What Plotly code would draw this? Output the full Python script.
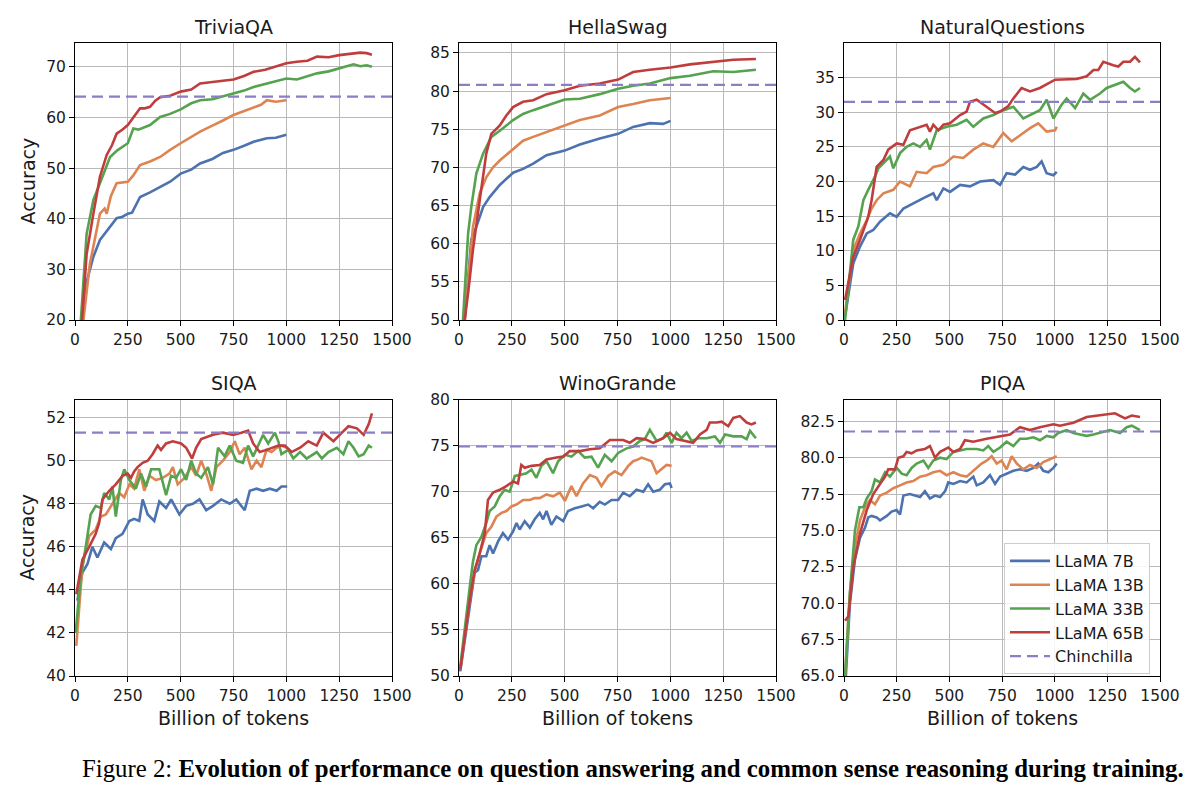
import plotly.graph_objects as go

# ---------------- data ----------------
MODELS = ["LLaMA 7B", "LLaMA 13B", "LLaMA 33B", "LLaMA 65B"]
COLORS = ["#4C72B0", "#DD8452", "#55A24F", "#C03D3E"]
CHIN_COLOR = "#8C7DC4"
PANELS = ["TriviaQA", "HellaSwag", "NaturalQuestions", "SIQA", "WinoGrande", "PIQA"]
CHINCHILLA = [64.1, 80.8, 31.5, 51.3, 74.9, 81.8]
X_TICKS = [0, 250, 500, 750, 1000, 1250, 1500]
X_RANGE = [0, 1500]

# TriviaQA
TQA_7B_X = [20, 32, 55, 87, 118, 140, 166, 197, 225, 250, 270, 308, 355, 403, 450, 500, 550, 592, 650, 700, 750, 800, 845, 908, 950, 1000]
TQA_7B_Y = [12, 20, 27.5, 32.5, 35.8, 37, 38.4, 40.1, 40.4, 41, 41.2, 44.3, 45.2, 46.3, 47.3, 48.9, 49.7, 50.9, 51.8, 53, 53.6, 54.4, 55.2, 55.9, 56, 56.6]
TQA_13B_X = [20, 40, 70, 100, 118, 140, 150, 170, 197, 250, 275, 308, 355, 403, 450, 500, 550, 592, 650, 671, 700, 750, 800, 845, 880, 908, 950, 1000]
TQA_13B_Y = [10, 20, 31, 37.5, 41, 42, 41, 44.5, 47, 47.3, 48.5, 50.6, 51.3, 52.2, 53.6, 54.9, 56.2, 57.2, 58.4, 58.8, 59.4, 60.5, 61.3, 62.1, 62.5, 63.4, 63.1, 63.4]
TQA_33B_X = [15, 30, 55, 87, 118, 166, 200, 250, 276, 300, 355, 403, 450, 500, 550, 592, 650, 700, 750, 800, 845, 900, 950, 1000, 1050, 1100, 1145, 1200, 1250, 1318, 1350, 1380, 1405]
TQA_33B_Y = [12, 22, 37, 43.7, 47, 52.2, 53.5, 54.9, 57.8, 57.6, 58.5, 60.1, 60.7, 61.6, 62.8, 63.4, 63.6, 64.2, 64.7, 65.3, 66, 66.6, 67.2, 67.7, 67.5, 68.1, 68.7, 69.1, 69.7, 70.5, 70.1, 70.3, 70]
TQA_65B_X = [20, 40, 55, 87, 118, 150, 175, 197, 225, 250, 280, 308, 330, 355, 380, 403, 450, 500, 550, 592, 650, 700, 750, 800, 845, 900, 950, 1000, 1050, 1100, 1145, 1200, 1250, 1300, 1350, 1380, 1405]
TQA_65B_Y = [12, 24, 33, 41, 48.3, 52.6, 54.5, 56.8, 57.6, 58.5, 60.2, 61.8, 61.8, 62.1, 63.3, 64, 64.3, 65.1, 65.5, 66.7, 67, 67.2, 67.5, 68.2, 69, 69.4, 70, 70.7, 71, 71.2, 72, 71.9, 72.3, 72.6, 72.8, 72.7, 72.4]

# HellaSwag
HS_7B_X = [10, 27, 58, 82, 114, 145, 193, 256, 303, 351, 414, 500, 572, 666, 753, 824, 903, 966, 1001]
HS_7B_Y = [40, 50, 60.5, 62.2, 64.8, 66.1, 67.7, 69.3, 69.8, 70.5, 71.6, 72.2, 73, 73.8, 74.4, 75.3, 75.8, 75.7, 76.1]
HS_13B_X = [10, 27, 66, 98, 129, 161, 193, 256, 303, 351, 414, 500, 572, 666, 753, 824, 903, 1001]
HS_13B_Y = [40, 50, 62.2, 66.6, 68.7, 70, 70.9, 72.4, 73.5, 74, 74.6, 75.5, 76.2, 76.8, 77.9, 78.3, 78.8, 79.1]
HS_33B_X = [5, 19, 43, 58, 82, 114, 153, 193, 256, 303, 351, 414, 500, 572, 666, 753, 824, 903, 1001, 1093, 1203, 1298, 1405]
HS_33B_Y = [40, 50, 61.3, 64.8, 69.2, 71.8, 74, 74.8, 76.2, 77, 77.5, 78.1, 78.9, 79, 79.6, 80.3, 80.7, 81, 81.7, 82, 82.6, 82.5, 82.8]
HS_65B_X = [10, 27, 45, 66, 98, 129, 153, 193, 224, 256, 303, 351, 414, 500, 572, 666, 753, 824, 903, 1001, 1093, 1203, 1251, 1298, 1405]
HS_65B_Y = [40, 50, 54, 59.2, 65.7, 71.8, 74.4, 75.5, 76.8, 77.9, 78.6, 78.8, 79.6, 80.1, 80.7, 81, 81.5, 82.5, 82.8, 83.1, 83.5, 83.8, 84, 84.1, 84.2]

# NaturalQuestions
NQ_7B_X = [5, 44, 76, 108, 139, 171, 218, 250, 282, 329, 377, 424, 440, 472, 503, 551, 598, 646, 709, 741, 772, 812, 851, 883, 915, 938, 962, 994, 1010]
NQ_7B_Y = [0.5, 8.2, 10.6, 12.5, 13, 14.2, 15.4, 14.9, 16.1, 16.9, 17.6, 18.3, 17.3, 19, 18.5, 19.5, 19.3, 20, 20.2, 19.5, 21.2, 21, 22.1, 21.7, 22.1, 22.9, 21.2, 20.9, 21.4]
NQ_13B_X = [5, 44, 76, 108, 131, 155, 187, 234, 266, 313, 345, 392, 424, 472, 519, 566, 614, 661, 709, 756, 796, 835, 883, 922, 962, 1002, 1010]
NQ_13B_Y = [1, 10.1, 12.5, 14.4, 16.1, 17.3, 18.3, 18.8, 20, 19.3, 21.4, 21.2, 22.1, 22.4, 23.6, 23.4, 24.6, 25.5, 25, 27, 25.8, 26.7, 27.7, 28.4, 27.2, 27.4, 27.9]
NQ_33B_X = [5, 44, 68, 92, 115, 147, 163, 187, 218, 234, 266, 297, 329, 361, 392, 408, 440, 487, 535, 582, 614, 661, 709, 741, 804, 851, 899, 930, 962, 994, 1033, 1057, 1097, 1136, 1168, 1215, 1247, 1286, 1326, 1358, 1381, 1405]
NQ_33B_Y = [0, 11.6, 13.5, 17.3, 18.8, 20.7, 21.9, 22.6, 23.6, 21.9, 24.1, 25, 25.5, 25, 26, 24.6, 27.4, 27.9, 28.2, 28.9, 27.9, 29.1, 29.6, 30.1, 30.8, 29.1, 29.9, 30.3, 31.8, 29.1, 31.1, 32, 30.6, 32.7, 31.8, 32.7, 33.5, 33.9, 34.4, 33.5, 33, 33.5]
NQ_65B_X = [5, 44, 76, 115, 131, 155, 187, 210, 250, 282, 313, 392, 408, 424, 448, 472, 503, 551, 582, 598, 630, 677, 717, 741, 780, 804, 843, 883, 930, 1002, 1104, 1152, 1184, 1207, 1231, 1278, 1302, 1326, 1358, 1381, 1405]
NQ_65B_Y = [2.9, 9.1, 11.6, 14.9, 17.3, 22.1, 23.1, 24.6, 25.5, 25.3, 27.4, 28.2, 27.2, 28.2, 27.4, 28.2, 28.4, 29.6, 30.1, 31.5, 31.8, 30.8, 29.9, 30.1, 30.9, 32, 33.5, 33, 33.5, 34.7, 34.8, 35.2, 36.1, 36.1, 37.3, 36.8, 36.6, 37.3, 37.3, 38, 37.2]

# SIQA
SIQA_7B_X = [11, 35, 59, 82, 106, 138, 170, 193, 225, 257, 280, 304, 320, 344, 375, 399, 431, 455, 494, 526, 558, 589, 621, 653, 692, 732, 763, 803, 827, 859, 890, 922, 954, 977, 1004]
SIQA_7B_Y = [43.5, 44.8, 45.2, 46, 45.5, 46.2, 45.9, 46.4, 46.6, 47.2, 47.3, 47.2, 48.2, 47.5, 47.2, 48.1, 47.8, 48.2, 47.5, 47.9, 48, 48.2, 47.7, 47.9, 48.2, 48, 48.2, 47.7, 48.6, 48.7, 48.6, 48.7, 48.6, 48.8, 48.8]
SIQA_13B_X = [6, 35, 67, 98, 122, 146, 177, 209, 233, 257, 280, 304, 328, 352, 383, 415, 447, 463, 486, 518, 550, 573, 597, 621, 645, 669, 700, 732, 756, 779, 803, 835, 859, 882, 906, 930, 954, 977, 1001]
SIQA_13B_Y = [41.4, 45.1, 46.5, 46.8, 47.4, 47.5, 48, 48.5, 48.3, 48.9, 48.7, 49.6, 48.6, 49.3, 49.1, 49.2, 49.4, 49.7, 48.9, 49.2, 49.7, 49.3, 50, 49.4, 48.6, 49.7, 50, 50.4, 50.9, 50.3, 50.6, 49.6, 50, 49.7, 50.5, 50.4, 50.6, 50.7, 50.6]
SIQA_33B_X = [3, 27, 51, 74, 98, 122, 138, 162, 177, 193, 217, 233, 257, 288, 312, 336, 360, 399, 431, 455, 478, 502, 526, 550, 573, 597, 629, 653, 677, 708, 732, 763, 795, 819, 843, 866, 890, 914, 946, 962, 977, 1009, 1033, 1065, 1096, 1144, 1168, 1199, 1239, 1270, 1294, 1318, 1342, 1366, 1390, 1405]
SIQA_33B_Y = [42, 44.6, 46, 47.5, 47.9, 47.8, 48.5, 48.2, 48.8, 47.4, 49.1, 49.6, 49.1, 48.7, 49.4, 48.8, 49.6, 49.6, 48.4, 49.3, 49.2, 49.6, 49.1, 50, 49.4, 49.2, 49.7, 48.9, 50.6, 50.2, 50.7, 50, 49.9, 50.7, 50.2, 50.7, 51.2, 50.8, 51.3, 50.9, 50.3, 50.5, 50.1, 50.4, 50.1, 50.4, 50.1, 50.4, 50.6, 50.3, 50.9, 50.6, 50.2, 50.3, 50.7, 50.6]
SIQA_65B_X = [6, 35, 67, 98, 114, 130, 162, 193, 225, 249, 265, 280, 296, 320, 344, 367, 391, 407, 431, 463, 502, 526, 554, 573, 597, 653, 700, 748, 787, 819, 843, 874, 906, 938, 962, 993, 1025, 1065, 1104, 1144, 1175, 1199, 1223, 1263, 1294, 1334, 1366, 1390, 1405]
SIQA_65B_Y = [43.8, 45.4, 46, 46.6, 47.1, 48.2, 48.6, 48.9, 49.3, 49.4, 49.2, 49.5, 49.7, 49.9, 50, 50.3, 50.7, 50.5, 50.8, 50.9, 50.8, 50.6, 50.1, 50.6, 51, 51.2, 51.3, 51.2, 51.3, 51.4, 50.8, 50.4, 50.5, 50.6, 50.7, 50.7, 50.4, 50.6, 50.9, 50.7, 51.3, 51.1, 50.9, 51.3, 51.6, 51.5, 51.2, 51.7, 52.2]

# WinoGrande
WG_7B_X = [6, 27, 51, 74, 90, 106, 129, 145, 161, 185, 208, 232, 256, 272, 287, 311, 335, 358, 382, 398, 414, 437, 461, 493, 516, 548, 580, 611, 635, 666, 690, 722, 753, 777, 808, 840, 872, 895, 919, 950, 974, 998, 1006]
WG_7B_Y = [50.5, 53.9, 57.9, 61.2, 61.5, 63, 63, 64.2, 63.3, 64.6, 65.5, 64.8, 65.7, 66.6, 65.9, 66.8, 66.1, 67, 67.7, 67, 67.9, 66.4, 67.3, 66.8, 67.9, 68.2, 68.4, 68.6, 68.2, 68.9, 68.6, 69.1, 69.1, 69.9, 69.5, 70.2, 70, 70.8, 70, 70.2, 70.8, 70.9, 70.4]
WG_13B_X = [6, 27, 51, 74, 98, 129, 153, 177, 201, 224, 248, 272, 303, 335, 358, 382, 414, 445, 477, 501, 532, 556, 587, 619, 651, 674, 706, 737, 769, 801, 824, 848, 864, 887, 911, 935, 958, 982, 1006]
WG_13B_Y = [50.7, 54.3, 58.3, 61.2, 63.3, 65.5, 66.2, 67.3, 67.7, 67.9, 68.4, 68.6, 69.1, 69.1, 69.3, 69.3, 69.7, 69.5, 69.9, 69, 70.6, 69.5, 70.9, 71.8, 71.5, 70.6, 71.7, 72.2, 71.8, 72.8, 73.3, 73.5, 73.7, 73.5, 73.3, 72, 72.4, 72.9, 72.8]
WG_33B_X = [6, 27, 51, 66, 82, 106, 129, 145, 169, 193, 216, 240, 264, 287, 319, 343, 366, 390, 414, 445, 469, 501, 532, 564, 595, 627, 658, 690, 722, 753, 793, 824, 856, 879, 903, 935, 966, 982, 1006, 1029, 1053, 1077, 1101, 1132, 1172, 1211, 1235, 1259, 1298, 1337, 1361, 1377, 1405]
WG_33B_Y = [51, 55.4, 59.7, 62.4, 64.2, 65.1, 66.6, 67.9, 68.4, 69.5, 70.2, 70, 71.7, 71.8, 72, 72.4, 71.5, 72.8, 73.3, 72, 73.3, 74, 73.8, 74.4, 73.7, 73.8, 72.6, 74, 73.3, 74.2, 74.7, 74.9, 75.5, 75.7, 76.7, 75.5, 75.8, 76.4, 75.3, 76.4, 75.8, 76.4, 75.5, 75.8, 75.8, 76, 75.3, 76.2, 76, 76, 75.7, 76.6, 75.8]
WG_65B_X = [6, 27, 51, 74, 98, 122, 137, 161, 193, 224, 256, 279, 295, 311, 343, 382, 414, 461, 493, 524, 572, 619, 666, 714, 777, 808, 840, 879, 919, 966, 998, 1029, 1077, 1108, 1140, 1172, 1187, 1219, 1243, 1274, 1298, 1329, 1361, 1384, 1405]
WG_65B_Y = [50.7, 54.3, 58.3, 61.5, 63.3, 65.5, 69.1, 69.9, 70.2, 70.6, 71.1, 70.9, 72.9, 72.6, 72.8, 72.9, 73.5, 73.7, 73.8, 74.4, 74.4, 74.6, 74.7, 75.6, 75.6, 75.3, 75.8, 75.7, 75.3, 75.8, 76.4, 75.7, 75.5, 75.3, 76.2, 76.7, 77.5, 77.5, 77.6, 77.1, 78, 78.2, 77.5, 77.3, 77.5]

# PIQA
PIQA_7B_X = [5, 28, 52, 76, 100, 115, 131, 155, 171, 203, 226, 250, 266, 282, 313, 337, 361, 384, 408, 432, 456, 480, 495, 519, 551, 582, 614, 630, 661, 693, 717, 741, 772, 804, 835, 867, 899, 922, 946, 970, 994, 1010]
PIQA_7B_Y = [64, 70, 73, 74.5, 75.2, 75.9, 76, 75.9, 75.7, 76, 76.3, 76.4, 76.1, 77.4, 77.5, 77.4, 77.3, 77.7, 77.2, 77.4, 77.3, 77.7, 78.3, 78.2, 78.4, 78.3, 78.7, 78.1, 78.3, 78.8, 78.2, 78.7, 78.9, 79.1, 79.2, 79.1, 79.3, 79.6, 79.1, 79, 79.3, 79.6]
PIQA_13B_X = [5, 28, 52, 76, 100, 123, 147, 171, 203, 234, 266, 297, 329, 361, 392, 424, 456, 487, 519, 551, 582, 614, 653, 677, 701, 725, 748, 772, 796, 820, 851, 883, 915, 946, 978, 1010]
PIQA_13B_Y = [65, 70.7, 73.9, 75.7, 76.6, 77.1, 76.8, 77.4, 77.6, 77.9, 78.1, 78.3, 78.4, 78.7, 78.8, 79, 79.1, 78.8, 79, 78.8, 78.7, 79.1, 79.6, 79.8, 80.1, 79.6, 79.8, 79.2, 80.1, 79.6, 79.2, 79.5, 79.3, 79.7, 79.9, 80.1]
PIQA_33B_X = [5, 28, 52, 73, 92, 108, 131, 147, 171, 195, 218, 250, 274, 297, 321, 345, 377, 400, 424, 456, 487, 519, 551, 582, 630, 661, 685, 709, 741, 772, 804, 835, 867, 899, 930, 962, 994, 1017, 1057, 1089, 1120, 1152, 1184, 1215, 1263, 1310, 1342, 1366, 1389, 1405]
PIQA_33B_Y = [65, 70.7, 75, 76.6, 76.6, 77.2, 77.7, 78.5, 78.3, 79, 78.7, 79.3, 78.9, 78.8, 79.3, 79.6, 79.8, 79.3, 79.8, 80, 79.9, 80.4, 80.5, 80.6, 80.6, 80.5, 80.8, 80.4, 80.7, 81.1, 80.8, 81.3, 81.3, 81.4, 81.2, 81.5, 81.4, 81.7, 81.9, 81.7, 81.6, 81.5, 81.6, 81.7, 81.9, 81.7, 82.1, 82.2, 82, 81.9]
PIQA_65B_X = [5, 21, 44, 76, 108, 139, 171, 195, 210, 242, 258, 282, 297, 321, 345, 384, 408, 432, 456, 495, 519, 551, 574, 614, 677, 741, 788, 835, 883, 930, 994, 1025, 1089, 1152, 1199, 1247, 1286, 1334, 1366, 1405]
PIQA_65B_Y = [68.8, 69.1, 72.5, 74.8, 76.4, 77.5, 78.2, 78.7, 79.2, 79.2, 80, 80.1, 80.4, 80.3, 80.5, 80.6, 80.8, 80, 80.4, 80.7, 80.4, 80.6, 81.2, 81.1, 81.3, 81.5, 81.6, 82.1, 81.9, 82.1, 82.3, 82.2, 82.4, 82.8, 82.9, 83, 83.05, 82.7, 82.9, 82.8]

Y_RANGES = [[20, 74.7], [50, 86.3], [0, 40.0], [40, 52.84], [50, 80], [65, 84.0]]
Y_TICKS = [
    [20, 30, 40, 50, 60, 70],
    [50, 55, 60, 65, 70, 75, 80, 85],
    [0, 5, 10, 15, 20, 25, 30, 35],
    [40, 42, 44, 46, 48, 50, 52],
    [50, 55, 60, 65, 70, 75, 80],
    [65.0, 67.5, 70.0, 72.5, 75.0, 77.5, 80.0, 82.5],
]
Y_FORMATS = ["d", "d", "d", "d", "d", ".1f"]

SERIES = [
    [(TQA_7B_X, TQA_7B_Y), (TQA_13B_X, TQA_13B_Y), (TQA_33B_X, TQA_33B_Y), (TQA_65B_X, TQA_65B_Y)],
    [(HS_7B_X, HS_7B_Y), (HS_13B_X, HS_13B_Y), (HS_33B_X, HS_33B_Y), (HS_65B_X, HS_65B_Y)],
    [(NQ_7B_X, NQ_7B_Y), (NQ_13B_X, NQ_13B_Y), (NQ_33B_X, NQ_33B_Y), (NQ_65B_X, NQ_65B_Y)],
    [(SIQA_7B_X, SIQA_7B_Y), (SIQA_13B_X, SIQA_13B_Y), (SIQA_33B_X, SIQA_33B_Y), (SIQA_65B_X, SIQA_65B_Y)],
    [(WG_7B_X, WG_7B_Y), (WG_13B_X, WG_13B_Y), (WG_33B_X, WG_33B_Y), (WG_65B_X, WG_65B_Y)],
    [(PIQA_7B_X, PIQA_7B_Y), (PIQA_13B_X, PIQA_13B_Y), (PIQA_33B_X, PIQA_33B_Y), (PIQA_65B_X, PIQA_65B_Y)],
]

# ---------------- layout geometry ----------------
# Positions are screen pixels; the page body adds an 8px margin around the figure.
W, H = 1200, 806
OFF = 8
COL_PX = [(75, 392), (459, 776), (844, 1160)]
ROW_PX = [(43, 320), (399.5, 676)]
FONT = "DejaVu Sans"


def px(x):
    return (x - OFF) / W


def py(y):
    return 1 - (y - OFF) / H


fig = go.Figure()
layout = dict(
    width=W, height=H, margin=dict(l=0, r=0, t=0, b=0, autoexpand=False),
    paper_bgcolor="white", plot_bgcolor="white",
    font=dict(family=FONT, size=15, color="#1a1a1a"),
    showlegend=True,
)
annotations = []

for i, name in enumerate(PANELS):
    r, c = divmod(i, 3)
    x0, x1 = COL_PX[c]
    y0, y1 = ROW_PX[r]
    ax = "" if i == 0 else str(i + 1)
    xa, ya = "xaxis" + ax, "yaxis" + ax
    common = dict(
        showline=True, mirror=True, linecolor="black", linewidth=1,
        ticks="outside", ticklen=5, tickwidth=1, tickcolor="black",
        showgrid=True, gridcolor="#b9b9b9", gridwidth=1, zeroline=False,
        automargin=False,
        tickfont=dict(family=FONT, size=15.5, color="#1a1a1a"),
    )
    layout[xa] = dict(domain=[px(x0), px(x1)], anchor="y" + ax, range=X_RANGE,
                      tickvals=X_TICKS, **common)
    layout[ya] = dict(domain=[py(y1), py(y0)], anchor="x" + ax, range=Y_RANGES[i],
                      tickvals=Y_TICKS[i], tickformat=Y_FORMATS[i], **common)

    for k, (xs, ys) in enumerate(SERIES[i]):
        fig.add_trace(go.Scatter(
            x=xs, y=ys, mode="lines", name=MODELS[k],
            line=dict(color=COLORS[k], width=2.6),
            xaxis="x" + ax, yaxis="y" + ax,
            showlegend=(i == 5), legendrank=k + 1,
        ))
    fig.add_trace(go.Scatter(
        x=X_RANGE, y=[CHINCHILLA[i], CHINCHILLA[i]], mode="lines", name="Chinchilla",
        line=dict(color=CHIN_COLOR, width=2.2, dash="11px,6px"),
        xaxis="x" + ax, yaxis="y" + ax, showlegend=(i == 5), legendrank=5,
    ))

    # subplot title
    annotations.append(dict(
        text=name, xref="paper", yref="paper", x=px((x0 + x1) / 2), y=py(y0 - 16),
        xanchor="center", yanchor="middle", showarrow=False,
        font=dict(family=FONT, size=19, color="#1a1a1a"),
    ))
    if c == 0:
        annotations.append(dict(
            text="Accuracy", xref="paper", yref="paper", x=px(27), y=py((y0 + y1) / 2),
            xanchor="center", yanchor="middle", textangle=-90, showarrow=False,
            font=dict(family=FONT, size=19, color="#1a1a1a"),
        ))
    if r == 1:
        annotations.append(dict(
            text="Billion of tokens", xref="paper", yref="paper", x=px((x0 + x1) / 2),
            y=py(718), xanchor="center", yanchor="middle", showarrow=False,
            font=dict(family=FONT, size=19, color="#1a1a1a"),
        ))

annotations.append(dict(
    text="Figure 2: <b>Evolution of performance on question answering and common sense reasoning during training.</b>",
    xref="paper", yref="paper", x=px(633), y=py(768), xanchor="center", yanchor="middle",
    showarrow=False, font=dict(family="Liberation Serif", size=24.8, color="black"),
))

layout["annotations"] = annotations
layout["legend"] = dict(
    x=px(1004), y=py(543), xanchor="left", yanchor="top",
    bgcolor="rgba(255,255,255,0.85)", bordercolor="#cccccc", borderwidth=1,
    font=dict(family=FONT, size=16, color="#1a1a1a"),
    itemwidth=40, tracegroupgap=0,
)
fig.update_layout(**layout)
fig.write_html("out.html")
